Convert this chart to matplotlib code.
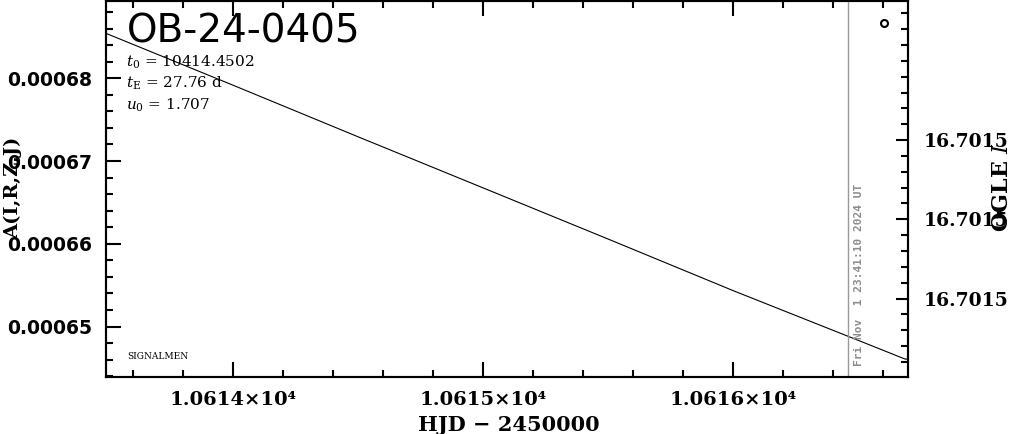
import matplotlib
matplotlib.use("Agg")
import matplotlib.pyplot as plt
from matplotlib.ticker import MultipleLocator, AutoMinorLocator, FormatStrFormatter, FuncFormatter, FixedLocator

# model curve
hjd = [10613.492, 10614.0, 10614.5, 10615.0, 10615.5, 10616.0, 10616.5, 10616.688, 10616.70]
ampl = [0.00068542, 0.00067916, 0.00067293, 0.00066676, 0.00066058, 0.00065435, 0.00064835, 0.00064608, 0.00064608]

# single OGLE point (right axis, magnitude)
obs_hjd = [10616.604]
obs_mag = [16.7014752]

now_hjd = 10616.46
now_txt = "Fri Nov  1 23:41:10 2024 UT"

event = "OB-24-0405"
params = [r"$t_0$ = 10414.4502", r"$t_{\rm E}$ = 27.76 d", r"$u_0$ = 1.707"]

xlim = (10613.492, 10616.70)
ylim = (0.00064391, 0.00068933)
maglim = (16.7015199, 16.70147245)
mag_ticks = [16.70149, 16.70150, 16.70151]

plt.rcParams['mathtext.fontset'] = 'dejavuserif'

fig = plt.figure(figsize=(10.11, 4.34), dpi=100)
ax = fig.add_axes([0.10485, 0.1313, 0.7933, 0.8664])

ax.plot(hjd, ampl, color='black', lw=0.8)
ax.axvline(now_hjd, color='#999999', lw=1.0)
ax.annotate(now_txt, xy=(now_hjd, 0.03), xycoords=('data', 'axes fraction'),
            xytext=(4, 0), textcoords='offset points', rotation=90,
            ha='left', va='bottom', color='#8c8c8c', fontsize=8,
            fontweight='bold', family='DejaVu Sans Mono')

ax.set_xlim(*xlim)
ax.set_ylim(*ylim)
ax.xaxis.set_major_locator(MultipleLocator(1))
ax.xaxis.set_minor_locator(MultipleLocator(0.2))
ax.xaxis.set_major_formatter(FuncFormatter(lambda v, p: "%.4f\u00d710\u2074" % (v / 1e4)))
ax.yaxis.set_major_locator(MultipleLocator(1e-5))
ax.yaxis.set_minor_locator(AutoMinorLocator(5))
ax.yaxis.set_major_formatter(FormatStrFormatter('%.5f'))

ax.tick_params(which='both', direction='in', top=True, right=False, width=1.5)
ax.tick_params(which='major', length=11)
ax.tick_params(which='minor', length=5)
ax.tick_params(axis='y', which='major', pad=10)
ax.tick_params(axis='x', which='major', pad=10)
for lab in ax.get_yticklabels():
    lab.set_fontsize(13.5)
    lab.set_fontweight('bold')
    lab.set_family('DejaVu Sans')
for lab in ax.get_xticklabels():
    lab.set_fontsize(14)
    lab.set_fontweight('bold')
    lab.set_family('DejaVu Serif')
for s in ax.spines.values():
    s.set_linewidth(1.5)

ax2 = ax.twinx()
ax2.plot(obs_hjd, obs_mag, 'o', mfc='none', mec='black', ms=5, mew=1.5)
ax2.set_ylim(*maglim)
ax2.yaxis.set_major_locator(FixedLocator(mag_ticks))
ax2.yaxis.set_minor_locator(MultipleLocator(0.000002))
ax2.yaxis.set_major_formatter(FormatStrFormatter('%.4f'))
ax2.tick_params(which='both', direction='in', width=1.5)
ax2.tick_params(which='major', length=9, pad=11)
ax2.tick_params(which='minor', length=5)
for lab in ax2.get_yticklabels():
    lab.set_fontsize(13.5)
    lab.set_fontweight('bold')
    lab.set_family('DejaVu Serif')
for s in ax2.spines.values():
    s.set_linewidth(1.5)

ax.text(0.026, 0.92, event, transform=ax.transAxes, fontsize=28, va='center', ha='left')
for i, p in enumerate(params):
    ax.text(0.025, 0.838 - i * 0.058, p, transform=ax.transAxes, fontsize=11,
            family='DejaVu Serif', va='center', ha='left')
ax.text(0.027, 0.055, "SIGNALMEN", transform=ax.transAxes, fontsize=6.5,
        family='DejaVu Serif', va='center', ha='left')

fig.text(509 / 1011, 1 - 425 / 434, "HJD \u2212 2450000", ha='center', va='center',
         fontsize=15, fontweight='bold', family='DejaVu Serif')
fig.text(13 / 1011, 1 - 188 / 434, "A(I,R,Z,J)", ha='center', va='center', rotation=90,
         fontsize=14, fontweight='bold', family='DejaVu Serif')
fig.text(1002 / 1011, 1 - 187 / 434, r"OGLE $I$", ha='center', va='center', rotation=90,
         fontsize=16, fontweight='bold', family='DejaVu Serif')

fig.savefig("out.png", dpi=100)
